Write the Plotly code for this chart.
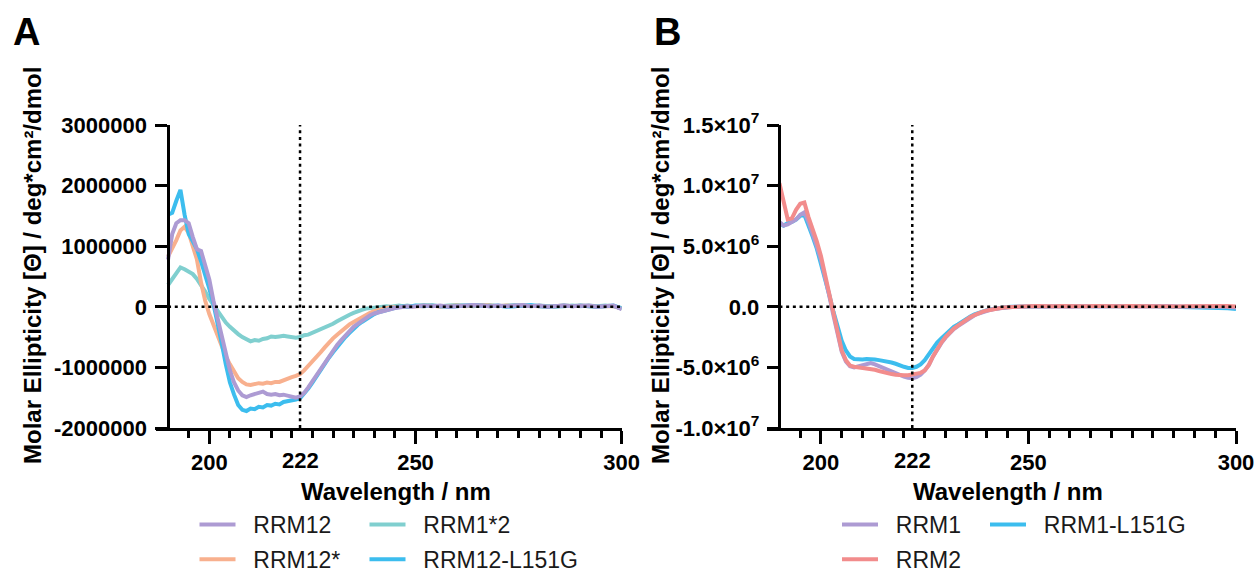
import plotly.graph_objects as go

W, H = 1257, 575
FONT = "Liberation Sans, Arial, sans-serif"

# ---------------- data ----------------
wavelength = list(range(190, 251)) + list(range(252, 301, 2))  # nm

# Panel A, molar ellipticity in units of 10^6 deg*cm2/dmol
a_rrm12 = [0.78, 1.20, 1.38, 1.43, 1.43, 1.38, 1.15, 0.95, 0.92, 0.70,
           0.45, 0.10, -0.20, -0.50, -0.80, -1.05, -1.25, -1.38, -1.46, -1.49,
           -1.46, -1.44, -1.41, -1.40, -1.44, -1.45, -1.44, -1.46, -1.45, -1.47,
           -1.49, -1.50, -1.48, -1.42, -1.33, -1.23, -1.12, -1.01, -0.91, -0.81,
           -0.72, -0.63, -0.55, -0.47, -0.40, -0.33, -0.28, -0.23, -0.18, -0.14,
           -0.11, -0.09, -0.07, -0.05, -0.03, -0.02, -0.01, 0.00, 0.01, 0.00,
           0.01,
           0.02, 0.01, 0.02, 0.00, 0.01, 0.02, 0.03, 0.02, 0.01, 0.02,
           0.01, 0.02, 0.03, 0.01, 0.02, 0.00, 0.01, 0.02, 0.01, 0.01,
           0.02, 0.00, 0.01, 0.02, -0.04]
a_rrm12_star = [0.83, 0.95, 1.10, 1.26, 1.32, 1.22, 1.02, 0.78, 0.40, 0.10,
                -0.12, -0.30, -0.48, -0.65, -0.82, -0.95, -1.08, -1.18, -1.24, -1.28,
                -1.29, -1.27, -1.26, -1.27, -1.25, -1.26, -1.24, -1.24, -1.21, -1.19,
                -1.16, -1.14, -1.11, -1.05, -0.98, -0.90, -0.83, -0.75, -0.67, -0.59,
                -0.52, -0.46, -0.40, -0.34, -0.29, -0.25, -0.21, -0.17, -0.13, -0.10,
                -0.07, -0.05, -0.03, -0.02, -0.01, 0.00, 0.00, 0.01, 0.00, 0.01,
                0.01,
                0.01, 0.02, 0.00, 0.01, 0.02, 0.01, 0.02, 0.03, 0.02, 0.01,
                0.02, 0.01, 0.02, 0.02, 0.01, 0.00, 0.01, 0.02, 0.01, 0.02,
                0.01, 0.00, 0.01, 0.01, -0.03]
a_rrm1_2 = [0.36, 0.45, 0.56, 0.65, 0.62, 0.57, 0.54, 0.46, 0.36, 0.25,
            0.13, 0.03, -0.07, -0.17, -0.26, -0.33, -0.40, -0.45, -0.50, -0.54,
            -0.57, -0.55, -0.56, -0.53, -0.52, -0.49, -0.50, -0.49, -0.48, -0.49,
            -0.50, -0.51, -0.50, -0.47, -0.46, -0.43, -0.41, -0.38, -0.35, -0.31,
            -0.28, -0.24, -0.20, -0.17, -0.13, -0.10, -0.07, -0.05, -0.03, -0.02,
            -0.01, 0.00, 0.00, 0.01, 0.00, 0.01, 0.02, 0.01, 0.02, 0.01,
            0.02,
            0.03, 0.02, 0.01, 0.02, 0.03, 0.02, 0.01, 0.02, 0.03, 0.01,
            0.02, 0.03, 0.02, 0.01, 0.02, 0.01, 0.00, 0.01, 0.02, 0.01,
            0.02, 0.01, 0.02, 0.01, -0.02]
a_rrm12_l151g = [1.52, 1.55, 1.75, 1.93, 1.52, 1.20, 1.08, 0.95, 0.75, 0.55,
                 0.30, 0.05, -0.25, -0.60, -0.95, -1.25, -1.45, -1.62, -1.70, -1.72,
                 -1.68, -1.69, -1.65, -1.66, -1.62, -1.63, -1.60, -1.61, -1.57, -1.56,
                 -1.54, -1.53, -1.51, -1.44, -1.35, -1.25, -1.14, -1.04, -0.94, -0.84,
                 -0.75, -0.66, -0.58, -0.50, -0.43, -0.36, -0.30, -0.25, -0.20, -0.16,
                 -0.12, -0.09, -0.07, -0.05, -0.03, -0.01, 0.00, 0.01, 0.00, 0.01,
                 0.02,
                 0.01, 0.02, 0.01, 0.00, 0.01, 0.02, 0.03, 0.02, 0.01, 0.02,
                 0.00, 0.01, 0.02, 0.03, 0.01, 0.00, 0.01, 0.02, 0.01, 0.02,
                 0.01, 0.00, 0.01, 0.02, -0.03]

# Panel B, molar ellipticity in units of 10^6 deg*cm2/dmol
b_rrm1 = [7.0, 6.7, 6.8, 7.0, 7.2, 7.6, 7.8, 7.0, 6.1, 5.0,
          3.9, 2.5, 0.9, -0.7, -2.3, -3.7, -4.5, -4.9, -5.0, -4.9,
          -4.8, -4.7, -4.65, -4.75, -4.9, -5.05, -5.2, -5.35, -5.45, -5.6,
          -5.75, -5.85, -5.9, -5.8, -5.6, -5.25, -4.8, -4.1, -3.5, -3.0,
          -2.55, -2.15, -1.85, -1.6, -1.35, -1.1, -0.9, -0.7, -0.55, -0.42,
          -0.32, -0.24, -0.16, -0.11, -0.07, -0.04, -0.02, 0.0, 0.02, 0.01,
          0.03,
          0.05, 0.02, 0.06, 0.04, 0.01, 0.05, 0.07, 0.03, 0.05, 0.02,
          0.04, 0.06, 0.03, 0.05, 0.02, 0.04, 0.06, 0.03, 0.01, 0.04,
          0.05, 0.02, 0.04, 0.03, -0.05]
b_rrm2 = [10.2, 8.5, 7.2, 7.3, 8.0, 8.5, 8.6, 7.4, 6.5, 5.4,
          4.2, 2.6, 0.9, -0.6, -2.2, -3.6, -4.4, -4.85, -4.95, -5.0,
          -5.05, -5.05, -5.1, -5.2, -5.3, -5.4, -5.5, -5.55, -5.6, -5.65,
          -5.65, -5.65, -5.6, -5.55, -5.45, -5.25, -4.8, -4.1, -3.45, -2.95,
          -2.5, -2.1, -1.8, -1.55, -1.3, -1.05, -0.85, -0.68, -0.52, -0.4,
          -0.3, -0.22, -0.15, -0.1, -0.06, -0.03, 0.0, 0.01, 0.03, 0.02,
          0.04,
          0.06, 0.03, 0.05, 0.07, 0.04, 0.02, 0.05, 0.06, 0.04, 0.03,
          0.05, 0.07, 0.05, 0.03, 0.04, 0.06, 0.04, 0.02, 0.05, 0.06,
          0.03, 0.05, 0.04, 0.06, 0.02]
b_rrm1_l151g = [6.9, 6.7, 6.9, 7.0, 7.2, 7.5, 7.6, 6.8, 5.8, 4.8,
                3.6, 2.4, 1.0, -0.4, -1.7, -2.8, -3.6, -4.1, -4.3, -4.35,
                -4.35, -4.3, -4.3, -4.35, -4.4, -4.45, -4.5, -4.6, -4.7, -4.85,
                -4.95, -5.05, -5.05, -4.95, -4.75, -4.4, -3.9, -3.4, -2.95, -2.6,
                -2.25, -1.95, -1.65, -1.45, -1.2, -0.95, -0.8, -0.62, -0.48, -0.37,
                -0.28, -0.2, -0.14, -0.09, -0.05, -0.02, 0.0, 0.02, 0.01, 0.03,
                0.02,
                0.04, 0.02, 0.05, 0.03, 0.06, 0.04, 0.02, 0.05, 0.03, 0.04,
                0.06, 0.03, 0.02, 0.04, 0.05, 0.03, 0.02, 0.04, 0.01, 0.02,
                0.00, -0.03, -0.08, -0.12, -0.18]

UNIT = 1e6

a_ticks = [-2000000, -1000000, 0, 1000000, 2000000, 3000000]
a_ticktext = ["-2000000", "-1000000", "0", "1000000", "2000000", "3000000"]
b_ticks = [-10000000, -5000000, 0, 5000000, 10000000, 15000000]
b_ticktext = ["-1.0×10<sup>7</sup>", "-5.0×10<sup>6</sup>", "0.0",
              "5.0×10<sup>6</sup>", "1.0×10<sup>7</sup>", "1.5×10<sup>7</sup>"]
x_major = [200, 250, 300]
x_minor = list(range(195, 300, 5))
x_marked = 222

C_PURPLE = "#ad9bd3"
C_ORANGE = "#f8b08e"
C_TEAL = "#80cfcf"
C_BLUE = "#3cbdee"
C_PINK = "#f28c8c"

# ---------------- layout geometry (pixels) ----------------
XMIN, XMAX = 187, 300
A_DOM = [155.7 / W, 621.7 / W]
B_DOM = [767.0 / W, 1236.0 / W]
Y_DOM = [1 - 428 / H, 1 - 125 / H]


def ypos(dom):
    return dom[0] + (190 - XMIN) / (XMAX - XMIN) * (dom[1] - dom[0])


fig = go.Figure()
PAD = "\u00a0\u00a0"


def add(name, vals, color, xa, ya, legend):
    fig.add_trace(go.Scatter(
        x=wavelength, y=[v * UNIT for v in vals], mode="lines", name=PAD + name,
        line=dict(color=color, width=4), xaxis=xa, yaxis=ya,
        legend=legend, legendgroup=name))


# panel A (drawing order: purple on top)
add("RRM1*2", a_rrm1_2, C_TEAL, "x", "y", "legend2")
add("RRM12*", a_rrm12_star, C_ORANGE, "x", "y", "legend")
add("RRM12-L151G", a_rrm12_l151g, C_BLUE, "x", "y", "legend2")
add("RRM12", a_rrm12, C_PURPLE, "x", "y", "legend")
# panel B
add("RRM1-L151G", b_rrm1_l151g, C_BLUE, "x2", "y2", "legend4")
add("RRM1", b_rrm1, C_PURPLE, "x2", "y2", "legend3")
add("RRM2", b_rrm2, C_PINK, "x2", "y2", "legend3")

# legend order inside each column
ranks = {"RRM12": 1, "RRM12*": 2, "RRM1*2": 1, "RRM12-L151G": 2,
         "RRM1": 1, "RRM2": 2, "RRM1-L151G": 1}
for tr in fig.data:
    tr.legendrank = ranks[tr.legendgroup]

tickfont = dict(family=FONT, size=22, color="black", weight="bold")


def xaxis(dom, anchor):
    return dict(domain=dom, range=[XMIN, XMAX], anchor=anchor, showline=True,
                linewidth=2.5, linecolor="black", ticks="outside", tickmode="array",
                tickvals=x_major, ticktext=[str(v) for v in x_major],
                ticklen=13, tickwidth=2.5, tickcolor="black", tickfont=tickfont,
                minor=dict(tickmode="array", tickvals=x_minor, ticklen=7,
                           tickwidth=2.5, tickcolor="black", ticks="outside",
                           showgrid=False),
                showgrid=False, zeroline=False, fixedrange=True)


def yaxis(xdom, rng, tv, tt, standoff):
    return dict(domain=Y_DOM, range=rng, anchor="free", position=ypos(xdom),
                showline=True, linewidth=2.5, linecolor="black", ticks="outside",
                tickmode="array", tickvals=tv, ticktext=tt, ticklen=12,
                tickwidth=2.5, tickcolor="black", tickfont=tickfont,
                ticklabelstandoff=standoff,
                showgrid=False, zeroline=False, fixedrange=True)


legfont = dict(family=FONT, size=23, color="#1a1a1a")


def legend(x_px, top_px):
    return dict(orientation="v", x=x_px / W, y=1 - top_px / H, xanchor="left",
                yanchor="top", font=legfont, bgcolor="rgba(0,0,0,0)", borderwidth=0,
                itemwidth=36, traceorder="grouped", tracegroupgap=2,
                itemclick=False, itemdoubleclick=False)


dot = dict(color="black", width=2.5, dash="3px,3.7px")
shapes = []
for xr, yr, lo, hi in (("x", "y", -2000000, 3000000), ("x2", "y2", -10000000, 15000000)):
    shapes.append(dict(type="line", xref=xr, yref=yr, x0=x_marked, x1=x_marked,
                       y0=lo, y1=hi, line=dot, layer="above"))
    shapes.append(dict(type="line", xref=xr, yref=yr, x0=190, x1=300,
                       y0=0, y1=0, line=dot, layer="above"))

ytitle = "Molar Ellipticity [Θ] / deg*cm²/dmol"
titlefont = dict(family=FONT, size=24, color="black", weight="bold")
panelfont = dict(family=FONT, size=38, color="black", weight="bold")


def pann(text, x_px, y_px, font, **kw):
    return dict(text=text, x=x_px / W, y=1 - y_px / H, xref="paper", yref="paper",
                showarrow=False, font=font, xanchor="center", yanchor="middle", **kw)


annotations = [
    pann("A", 27, 32, panelfont),
    pann("B", 667.5, 32, panelfont),
    pann(ytitle, 32, 266, titlefont, textangle=-90),
    pann(ytitle, 660, 266, titlefont, textangle=-90),
    pann("Wavelength / nm", 396, 491, titlefont),
    pann("Wavelength / nm", 1007.5, 491, titlefont),
    dict(text=str(x_marked), x=x_marked, y=1 - 460 / H, xref="x", yref="paper",
         showarrow=False, font=tickfont, xanchor="center", yanchor="middle"),
    dict(text=str(x_marked), x=x_marked, y=1 - 460 / H, xref="x2", yref="paper",
         showarrow=False, font=tickfont, xanchor="center", yanchor="middle"),
]

fig.update_layout(
    width=W, height=H, margin=dict(l=0, r=0, t=0, b=0, autoexpand=False),
    paper_bgcolor="white", plot_bgcolor="white",
    font=dict(family=FONT, color="black"),
    showlegend=True,
    xaxis=xaxis(A_DOM, "y"),
    xaxis2=xaxis(B_DOM, "y2"),
    yaxis=yaxis(A_DOM, [-2000000, 3000000], a_ticks, a_ticktext, 4),
    yaxis2=yaxis(B_DOM, [-10000000, 15000000], b_ticks, b_ticktext, 3),
    legend=legend(194.5, 503),
    legend2=legend(364.5, 503),
    legend3=legend(837, 503),
    legend4=legend(985, 503),
    shapes=shapes,
    annotations=annotations,
)

fig.write_html("out.html", config={"displayModeBar": False},
               post_script="document.body.style.margin='0';")
